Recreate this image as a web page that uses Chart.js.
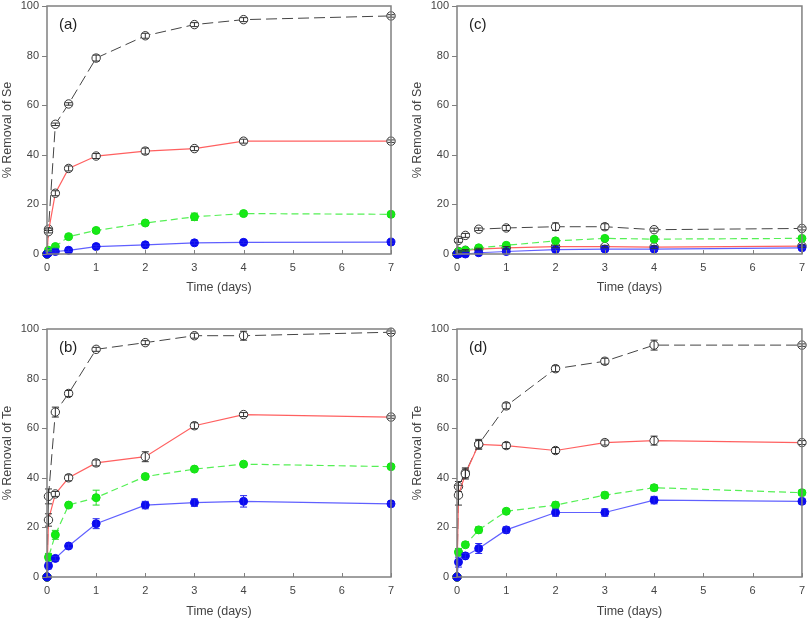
<!DOCTYPE html>
<html>
<head>
<meta charset="utf-8">
<script src="https://cdn.jsdelivr.net/npm/chart.js@4.4.1/dist/chart.umd.min.js"></script>
<style>
  html, body { margin: 0; padding: 0; background: #fff; overflow: hidden; }
  #wrap { position: relative; width: 808px; height: 620px; overflow: hidden; }
  .panel { position: absolute; }
</style>
</head>
<body>
<div id="wrap">
  <div class="panel" style="left:0;top:-10px;width:404px;height:310px"><canvas id="chartA"></canvas></div>
  <div class="panel" style="left:410px;top:-10px;width:402px;height:310px"><canvas id="chartC"></canvas></div>
  <div class="panel" style="left:0;top:300px;width:404px;height:320px"><canvas id="chartB"></canvas></div>
  <div class="panel" style="left:410px;top:300px;width:402px;height:320px"><canvas id="chartD"></canvas></div>
</div>
<script>
// sampling times (days)
const timeDays = [0, 0.03, 0.17, 0.44, 1, 2, 3, 4, 7];
const xTicks = [0, 1, 2, 3, 4, 5, 6, 7];
const yTicks = [0, 20, 40, 60, 80, 100];

// (a) Se
const aBlack = [0, 10, 52.3, 60.5, 79, 88, 92.5, 94.5, 96];
const aBlackErr = [0, 0.5, 0.5, 0.5, 1.2, 1, 0.8, 0.8, 0.5];
const aRed = [0, 9, 24.5, 34.5, 39.5, 41.5, 42.5, 45.5, 45.5];
const aRedErr = [0, 0.5, 1, 1, 1, 1.2, 0.8, 0.8, 0.5];
const aGreen = [0, 1.5, 3, 7, 9.5, 12.5, 15, 16.3, 16];
const aGreenErr = [0, 0.3, 0.5, 0.8, 0.8, 0.8, 1.5, 0.8, 0.5];
const aBlue = [0, 0.5, 1, 1.5, 3, 3.7, 4.5, 4.7, 4.8];
const aBlueErr = [0, 0.3, 0.3, 0.5, 0.5, 0.6, 0.6, 0.5, 0.5];

// (c) Se
const cBlack = [0, 5.5, 7.5, 10, 10.5, 11, 11, 9.8, 10.3];
const cBlackErr = [0, 0.8, 0.8, 0.5, 1, 1.5, 1.2, 0.6, 0.6];
const cRed = [0, 1, 1.5, 2, 2.5, 3, 3, 2.8, 3.2];
const cRedErr = [0, 0.3, 0.3, 0.3, 0.5, 0.5, 0.5, 0.5, 0.5];
const cGreen = [0, 1, 1.5, 2.5, 3.5, 5.3, 6.3, 6, 6.3];
const cGreenErr = [0, 0.3, 0.3, 0.3, 0.5, 0.5, 0.5, 0.5, 0.5];
const cBlue = [0, 0, 0, 0.5, 1, 1.8, 2, 2, 2.5];
const cBlueErr = [0, 0.2, 0.2, 0.3, 0.3, 0.4, 0.4, 0.4, 0.4];

// (b) Te
const bBlack = [0, 32.5, 66.5, 74, 91.8, 94.5, 97.3, 97.3, 98.7];
const bBlackErr = [0, 3, 2, 1.2, 0.8, 0.8, 1, 1.8, 0.5];
const bRed = [0, 23, 33.5, 40, 46, 48.5, 61, 65.5, 64.5];
const bRedErr = [0, 2.5, 1, 1.2, 1.2, 2, 1.2, 0.8, 0.5];
const bGreen = [0, 8, 17, 29, 32, 40.5, 43.5, 45.5, 44.5];
const bGreenErr = [0, 1.5, 1.8, 1, 3, 1, 0.8, 0.6, 0.5];
const bBlue = [0, 4.5, 7.5, 12.5, 21.5, 29, 30, 30.5, 29.5];
const bBlueErr = [0, 1.2, 0.8, 0.8, 2, 1.5, 1.5, 2.3, 0.5];

// (d) Te
const dBlack = [0, 36.5, 42, 53.5, 69, 84, 87, 93.5, 93.5];
const dBlackErr = [0, 2, 2, 2, 1.2, 1.2, 1.2, 2, 0.5];
const dRed = [0, 33, 41.5, 53.5, 53, 51, 54.2, 55, 54.2];
const dRedErr = [0, 4, 2, 1.5, 1.2, 1.2, 1, 1.8, 0.8];
const dGreen = [0, 10, 13, 19, 26.5, 29, 33, 36, 34];
const dGreenErr = [0, 1.5, 1, 1.2, 0.8, 1.2, 1.2, 1.2, 1];
const dBlue = [0, 6, 8.5, 11.5, 19, 26, 26, 31, 30.5];
const dBlueErr = [0, 2, 1, 2, 1.2, 1.5, 1.5, 1.5, 1];

const FONT = "'Liberation Sans', Arial, sans-serif";
const TXT = '#444';
const FRAME = '#808080';

function pts(vals) {
    return vals.map((v, i) => ({ x: timeDays[i], y: v }));
}

// Rahmen, Ticks nach innen (x) bzw. aussen (y), Fehlerbalken, Panel-Label
const decor = {
    id: 'decor',
    afterDatasetsDraw(chart) {
        const ctx = chart.ctx;
        const xs = chart.scales.x, ys = chart.scales.y;
        ctx.save();
        chart.data.datasets.forEach(ds => {
            if (!ds.err) return;
            ctx.strokeStyle = ds.errColor;
            ctx.lineWidth = 1;
            ds.data.forEach((p, i) => {
                const e = ds.err[i];
                if (!e) return;
                const px = xs.getPixelForValue(p.x);
                const y1 = ys.getPixelForValue(p.y - e);
                const y2 = ys.getPixelForValue(p.y + e);
                ctx.beginPath();
                ctx.moveTo(px, y1); ctx.lineTo(px, y2);
                ctx.moveTo(px - 3.5, y1); ctx.lineTo(px + 3.5, y1);
                ctx.moveTo(px - 3.5, y2); ctx.lineTo(px + 3.5, y2);
                ctx.stroke();
            });
        });
        ctx.restore();
    },
    afterDraw(chart) {
        const ctx = chart.ctx;
        const a = chart.chartArea;
        const xs = chart.scales.x, ys = chart.scales.y;
        ctx.save();
        ctx.strokeStyle = FRAME;
        ctx.lineWidth = 1.5;
        ctx.strokeRect(a.left, a.top, a.right - a.left, a.bottom - a.top);
        ctx.lineWidth = 1;
        ctx.beginPath();
        xTicks.forEach(t => {
            const px = Math.round(xs.getPixelForValue(t)) + 0.5;
            ctx.moveTo(px, a.bottom); ctx.lineTo(px, a.bottom - 4);
        });
        yTicks.forEach(t => {
            const py = Math.round(ys.getPixelForValue(t)) + 0.5;
            ctx.moveTo(a.left, py); ctx.lineTo(a.left - 5, py);
        });
        ctx.stroke();
        ctx.fillStyle = '#222';
        ctx.font = '15px ' + FONT;
        ctx.textBaseline = 'middle';
        ctx.fillText(chart.options.plugins.decor.label, a.left + 12, a.top + 19);
        ctx.restore();
    }
};

function makePanel(id, label, yTitle, s, lay) {
    const black = { label: 'black', data: pts(s.black), err: s.blackErr, errColor: '#333',
        borderColor: '#444', borderWidth: 1, borderDash: [11, 5],
        pointStyle: 'circle', pointRadius: 4.2, pointBackgroundColor: '#fff', pointBorderColor: '#333', pointBorderWidth: 1 };
    const red = { label: 'red', data: pts(s.red), err: s.redErr, errColor: '#333',
        borderColor: '#ff6060', borderWidth: 1.2,
        pointStyle: 'circle', pointRadius: 4.2, pointBackgroundColor: '#fff', pointBorderColor: '#333', pointBorderWidth: 1 };
    const green = { label: 'green', data: pts(s.green), err: s.greenErr, errColor: '#22dd22',
        borderColor: '#55f055', borderWidth: 1.2, borderDash: [7, 4],
        pointStyle: 'circle', pointRadius: 4, pointBackgroundColor: '#11f011', pointBorderColor: '#11e011', pointBorderWidth: 1 };
    const blue = { label: 'blue', data: pts(s.blue), err: s.blueErr, errColor: '#2222ee',
        borderColor: '#6060ff', borderWidth: 1.2,
        pointStyle: 'circle', pointRadius: 4, pointBackgroundColor: '#0a0af0', pointBorderColor: '#0a0af0', pointBorderWidth: 1 };
    const datasets = [blue, green, red, black].map(d => Object.assign({ fill: false, tension: 0, clip: false }, d));

    new Chart(document.getElementById(id), {
        type: 'line',
        data: { datasets },
        plugins: [decor],
        options: {
            responsive: true,
            maintainAspectRatio: false,
            animation: false,
            layout: { padding: { top: lay.top, right: lay.right, left: 0, bottom: 0 } },
            plugins: { legend: { display: false }, tooltip: { enabled: false }, decor: { label } },
            scales: {
                x: {
                    type: 'linear', min: 0, max: 7,
                    grid: { display: false, drawTicks: false }, border: { display: false },
                    afterBuildTicks: sc => { sc.ticks = xTicks.map(v => ({ value: v })); },
                    afterFit: sc => { sc.height = lay.xh; },
                    ticks: { color: TXT, font: { family: FONT, size: 11 }, padding: 7, maxRotation: 0 },
                    title: { display: true, text: 'Time (days)', color: TXT, font: { family: FONT, size: 12.5 }, padding: { top: 0, bottom: lay.tpad } }
                },
                y: {
                    min: 0, max: 100,
                    grid: { display: false, drawTicks: false }, border: { display: false },
                    afterBuildTicks: sc => { sc.ticks = yTicks.map(v => ({ value: v })); },
                    afterFit: sc => { sc.width = 47; },
                    ticks: { color: TXT, font: { family: FONT, size: 11 }, padding: 8 },
                    title: { display: true, text: yTitle, color: TXT, font: { family: FONT, size: 12.5 }, padding: { top: 0, bottom: 0 } }
                }
            }
        }
    });
}

makePanel('chartA', '(a)', '% Removal of Se',
    { black: aBlack, blackErr: aBlackErr, red: aRed, redErr: aRedErr, green: aGreen, greenErr: aGreenErr, blue: aBlue, blueErr: aBlueErr },
    { top: 16, right: 13, xh: 46, tpad: 5 });
makePanel('chartC', '(c)', '% Removal of Se',
    { black: cBlack, blackErr: cBlackErr, red: cRed, redErr: cRedErr, green: cGreen, greenErr: cGreenErr, blue: cBlue, blueErr: cBlueErr },
    { top: 16, right: 10, xh: 46, tpad: 5 });
makePanel('chartB', '(b)', '% Removal of Te',
    { black: bBlack, blackErr: bBlackErr, red: bRed, redErr: bRedErr, green: bGreen, greenErr: bGreenErr, blue: bBlue, blueErr: bBlueErr },
    { top: 29, right: 13, xh: 43, tpad: 1 });
makePanel('chartD', '(d)', '% Removal of Te',
    { black: dBlack, blackErr: dBlackErr, red: dRed, redErr: dRedErr, green: dGreen, greenErr: dGreenErr, blue: dBlue, blueErr: dBlueErr },
    { top: 29, right: 10, xh: 43, tpad: 1 });
</script>
</body>
</html>
